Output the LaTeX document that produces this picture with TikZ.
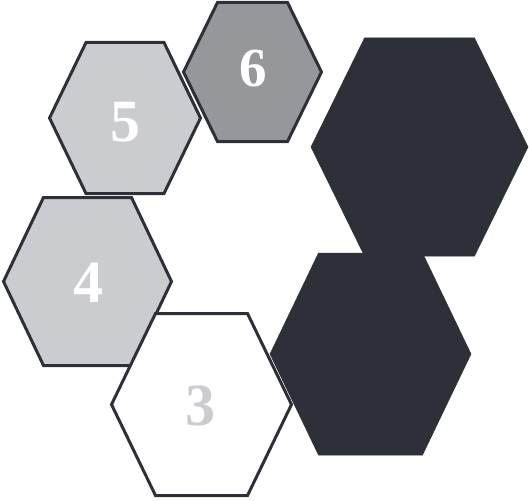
\documentclass[tikz,border=0pt]{standalone}
\usepackage{fontspec}
\setmainfont{Liberation Serif}
\definecolor{hexdark}{HTML}{2D3038}
\definecolor{hexmid}{HTML}{96979B}
\definecolor{hexlight}{HTML}{CBCCCF}
\newcommand{\hexpath}[5]{% cx, cy, a (half width), b (half height), c (half top edge)
  ({#1-#5},{-(#2-#4)}) -- ({#1+#5},{-(#2-#4)}) -- ({#1+#3},{-#2}) --
  ({#1+#5},{-(#2+#4)}) -- ({#1-#5},{-(#2+#4)}) -- ({#1-#3},{-#2}) -- cycle}
\tikzset{
  hexline/.style={draw=hexdark, line width=3pt, line join=miter},
  darkhex/.style={fill=hexdark, draw=hexdark, line width=0.5pt},
  digit/.style={font=\bfseries\fontsize{60}{60}\selectfont, inner sep=0pt}
}
\begin{document}
\begin{tikzpicture}[x=1pt,y=1pt]
\useasboundingbox (0,0) rectangle (529,-500);
% dark hexagons
\path[darkhex] \hexpath{419.5}{147}{108.5}{109}{55};
\path[darkhex] \hexpath{370.5}{354}{100.5}{101}{52};
% outlined hexagons
\path[hexline, fill=hexlight] \hexpath{125}{118}{75.5}{75.5}{39};
\path[hexline, fill=hexmid] \hexpath{252.5}{72}{69}{69.5}{35};
\path[hexline, fill=hexlight] \hexpath{87.5}{281.5}{84}{84}{44};
\path[hexline, fill=white] \hexpath{201.5}{404.5}{90}{91}{46};
% digits
\node[digit, text=white, font=\bfseries\fontsize{55}{55}\selectfont] (n6) at (253,-69) {6};
\node[digit, text=white] (n5) at (125,-122) {5};
\node[digit, text=white] (n4) at (88,-283) {4};
\node[digit, text=hexlight] (n3) at (200,-406) {3};
\end{tikzpicture}
\end{document}
